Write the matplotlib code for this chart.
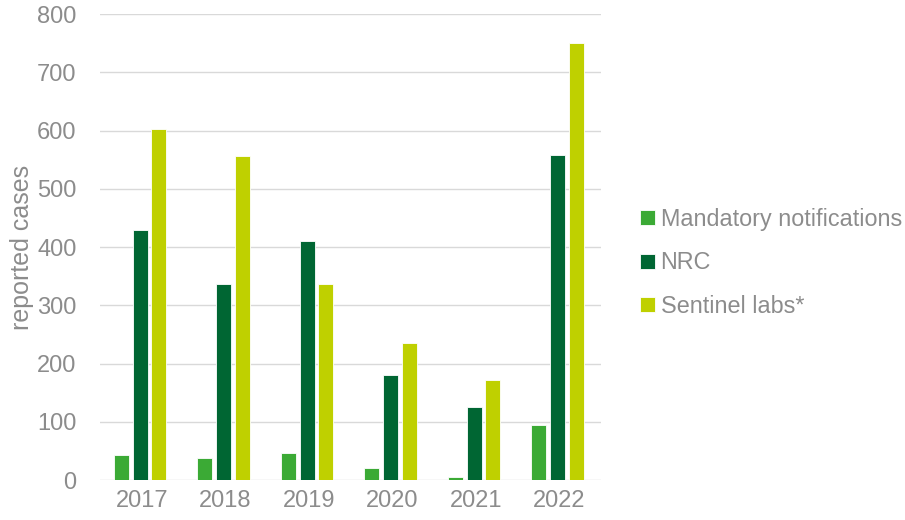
import matplotlib
matplotlib.use("Agg")
import matplotlib.pyplot as plt
import numpy as np

plt.rcParams['font.family'] = ['Liberation Sans', 'DejaVu Sans']

# data
years = ["2017", "2018", "2019", "2020", "2021", "2022"]
mandatory = [43, 38, 47, 20, 5, 95]
nrc = [430, 336, 411, 180, 125, 558]
sentinel = [602, 556, 336, 235, 172, 751]

series_names = ["Mandatory notifications", "NRC", "Sentinel labs*"]
colors = ["#3BAA35", "#006633", "#BFD000"]
grey = "#8c8c8c"

fig = plt.figure(figsize=(9.05, 5.2), dpi=100)
ax = fig.add_axes([0.1105, 0.0769, 0.5535, 0.896])

x = np.arange(len(years))
w = 0.18
step = 0.224
for i, vals in enumerate([mandatory, nrc, sentinel]):
    ax.bar(x + (i - 1) * step - 0.02, vals, width=w, color=colors[i],
           edgecolor="white", linewidth=0.6, label=series_names[i], zorder=3)

ax.set_xlim(-0.5, len(years) - 0.5)
ax.set_ylim(0, 800)
ax.set_yticks(range(0, 801, 100))
ax.set_xticks(x)
ax.set_xticklabels(years)
ax.grid(axis="y", color="#d9d9d9", linewidth=1, zorder=0)
for s in ["top", "right", "left", "bottom"]:
    ax.spines[s].set_visible(False)
ax.tick_params(axis="both", length=0, labelsize=17, labelcolor=grey)
ax.tick_params(axis="y", pad=17)
ax.tick_params(axis="x", pad=7)
ax.set_ylabel("reported cases", fontsize=18, color=grey, labelpad=2)

leg = ax.legend(loc="center left", bbox_to_anchor=(1.06, 0.466), frameon=False,
                fontsize=16.8, labelcolor=grey, handlelength=0.62, handleheight=0.62,
                handletextpad=0.25, labelspacing=0.88, borderaxespad=0)

fig.savefig("out.png", dpi=100)
